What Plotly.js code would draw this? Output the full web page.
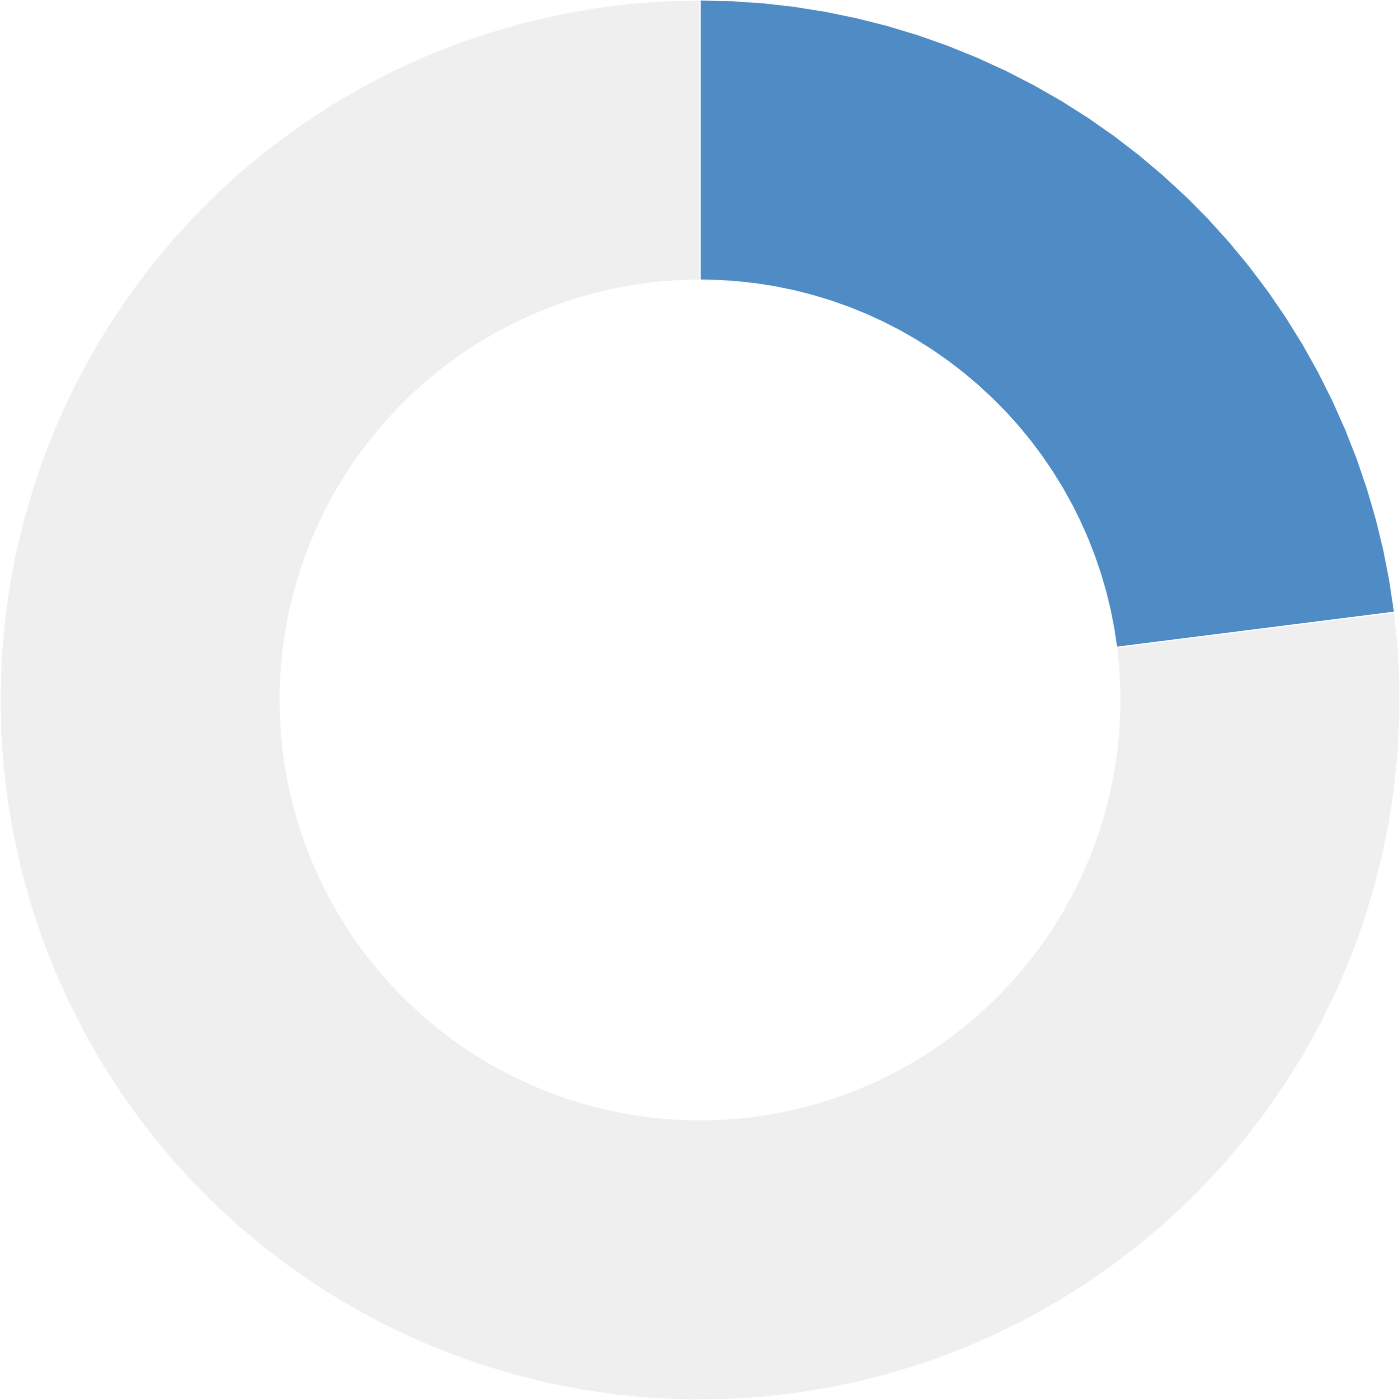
<!DOCTYPE html>
<html>
<head>
<meta charset="utf-8">
<script src="https://cdn.plot.ly/plotly-3.0.1.min.js"></script>
<style>
  html, body { margin: 0; padding: 0; background: #fff; }
  #chart { width: 1400px; height: 1400px; }
</style>
</head>
<body>
<div id="chart"></div>
<script>
// share shown vs. remainder
const labels = ['Value', 'Remainder']
const values = [23, 77]
const colors = ['#4f8bc5', '#efefef']

const data = [{
    type: 'pie',
    labels: labels,
    values: values,
    hole: 0.6,
    sort: false,
    direction: 'clockwise',
    rotation: 0,
    textinfo: 'none',
    hoverinfo: 'label+percent',
    marker: { colors: colors, line: { color: '#ffffff', width: 1 } },
}]

const layout = {
    width: 1400,
    height: 1400,
    margin: { l: 0, r: 0, t: 0, b: 0 },
    showlegend: false,
    paper_bgcolor: '#ffffff',
}

Plotly.newPlot('chart', data, layout, { displayModeBar: false })
</script>
</body>
</html>
